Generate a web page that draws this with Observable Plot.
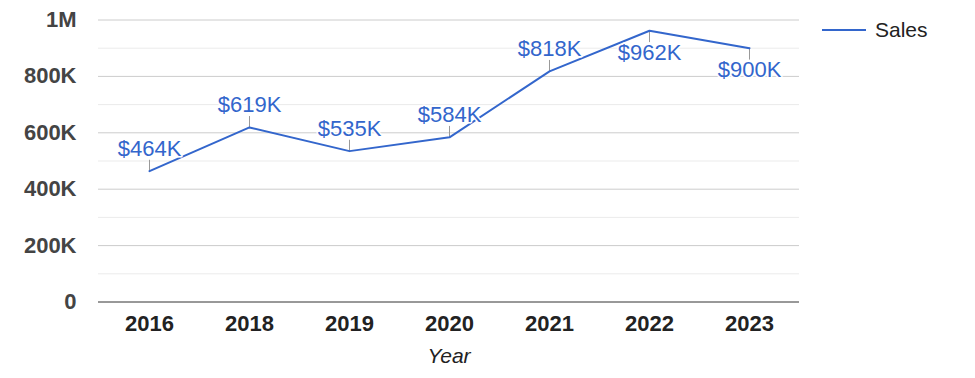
<!DOCTYPE html>
<html>
<head>
<meta charset="utf-8">
<script src="https://cdn.jsdelivr.net/npm/d3@7"></script>
<script src="https://cdn.jsdelivr.net/npm/@observablehq/plot@0.6"></script>
<style>
  html, body { margin: 0; padding: 0; background: #fff; }
  #wrap { position: relative; width: 975px; height: 378px; font-family: "Liberation Sans", Arial, sans-serif; }
  #legend { position: absolute; left: 822px; top: 18px; display: flex; align-items: center; font-size: 21px; color: #222; }
  #legend .sw { display: inline-block; width: 44px; height: 0; border-top: 2px solid #3366cc; margin-right: 9px; }
</style>
</head>
<body>
<div id="wrap"><div id="legend"><span class="sw"></span><span>Sales</span></div></div>
<script>
const years = ["2016", "2018", "2019", "2020", "2021", "2022", "2023"];
const sales = [464000, 619000, 535000, 584000, 818000, 962000, 900000];
const salesLabels = ["$464K", "$619K", "$535K", "$584K", "$818K", "$962K", "$900K"];
const labelSide = ["above", "above", "above", "above", "above", "below", "below"];
const majorTicks = [0, 200000, 400000, 600000, 800000, 1000000];
const majorTickLabels = ["0", "200K", "400K", "600K", "800K", "1M"];
const minorTicks = [100000, 300000, 500000, 700000, 900000];
const seriesName = "Sales";
const xTitle = "Year";

const data = years.map((y, i) => ({year: y, value: sales[i], label: salesLabels[i], side: labelSide[i]}));
const blue = "#3366cc";
const leader = {draw(context, l) { context.moveTo(0, 0); context.lineTo(0, -l); }};

const chart = Plot.plot({
  width: 975,
  height: 378,
  marginLeft: 98,
  marginRight: 176,
  marginTop: 19.5,
  marginBottom: 76.5,
  style: {fontFamily: "'Liberation Sans', Arial, sans-serif", background: "#fff"},
  x: {type: "point", domain: years, padding: 0.5},
  y: {domain: [0, 1000000]},
  marks: [
    Plot.ruleY(minorTicks, {stroke: "#ebebeb", strokeWidth: 1}),
    Plot.ruleY(majorTicks.filter(d => d > 0), {stroke: "#cccccc", strokeWidth: 1}),
    Plot.axisY({
      ticks: majorTicks, tickSize: 0, tickPadding: 22, label: null,
      tickFormat: d => majorTickLabels[majorTicks.indexOf(d)],
      fontSize: 22, fontWeight: "bold", fill: "#444"
    }),
    Plot.axisX({tickSize: 0, tickPadding: 13, label: null, fontSize: 22, fontWeight: "bold", fill: "#222"}),
    Plot.vector(data, {
      x: "year", y: "value", length: 11, anchor: "start", shape: leader,
      rotate: d => d.side === "above" ? 0 : 180, stroke: "#999", strokeWidth: 1
    }),
    Plot.line(data, {x: "year", y: "value", stroke: blue, strokeWidth: 2}),
    Plot.text(data.filter(d => d.side === "above"), {
      x: "year", y: "value", text: "label", dy: -22, fontSize: 22, fill: blue,
      stroke: "white", strokeWidth: 3, lineAnchor: "middle"
    }),
    Plot.text(data.filter(d => d.side === "below"), {
      x: "year", y: "value", text: "label", dy: 22, fontSize: 22, fill: blue,
      stroke: "white", strokeWidth: 3, lineAnchor: "middle"
    }),
    Plot.ruleY([0], {stroke: "#333", strokeWidth: 1}),
    Plot.text([xTitle], {
      frameAnchor: "bottom", dy: 54, text: d => d, fontSize: 21, fontStyle: "italic",
      fill: "#222", lineAnchor: "middle"
    })
  ]
});
document.getElementById("wrap").prepend(chart);
document.getElementById("legend").lastChild.textContent = seriesName;
</script>
</body>
</html>
